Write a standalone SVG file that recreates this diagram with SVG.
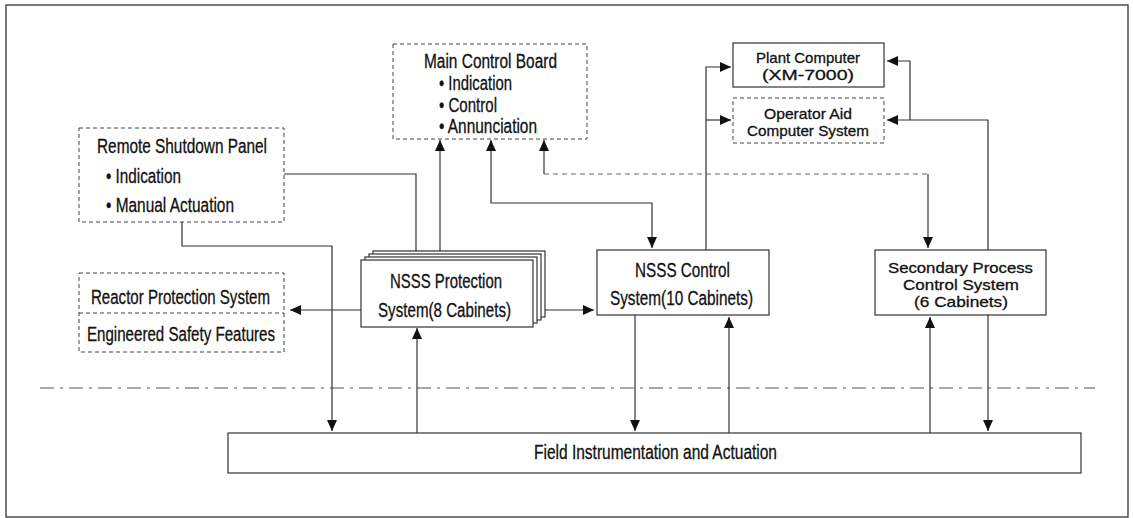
<svg xmlns="http://www.w3.org/2000/svg" width="1133" height="518" viewBox="0 0 1133 518">
<style>
text{font-family:"Liberation Sans",Arial,sans-serif;fill:#111;font-size:20px;stroke:#111;stroke-width:0.3;}
.s16{font-size:15px;}
.box{fill:#fff;stroke:#333;stroke-width:1.2;}
.dbox{fill:#fff;stroke:#444;stroke-width:1;stroke-dasharray:4 3;}
.ln{fill:none;stroke:#333;stroke-width:1.2;}
.dl{fill:none;stroke:#666;stroke-width:1;stroke-dasharray:5 4;}
.sep{fill:none;stroke:#555;stroke-width:1;stroke-dasharray:14 6 3 6;}
</style>
<defs>
<marker id="ah" markerUnits="userSpaceOnUse" markerWidth="12" markerHeight="10" refX="11" refY="5" orient="auto-start-reverse">
<path d="M0,0 L11,5 L0,10 z" fill="#111"/>
</marker>
</defs>
<rect x="6" y="5" width="1122" height="512" fill="#fff" stroke="#333" stroke-width="1.3"/>
<path class="sep" d="M40,388 H1095"/>
<g id="connectors">
<path class="ln" d="M284,174 H416 V251"/>
<path class="ln" d="M440,251 V140" marker-end="url(#ah)"/>
<path class="ln" d="M491,140 V203 H652 V248" marker-start="url(#ah)" marker-end="url(#ah)"/>
<path class="ln" d="M544,174 V140" marker-end="url(#ah)"/>
<path class="dl" d="M544,174 H928"/>
<path class="ln" d="M928,174 V248" marker-end="url(#ah)"/>
<path class="ln" d="M706,250 V67 H731" marker-end="url(#ah)"/>
<path class="ln" d="M706,120 H731" marker-end="url(#ah)"/>
<path class="ln" d="M988,250 V120 H887" marker-end="url(#ah)"/>
<path class="ln" d="M910,120 V61 H887" marker-end="url(#ah)"/>
<path class="ln" d="M182,222 V246 H332 V431" marker-end="url(#ah)"/>
<path class="ln" d="M362,310 H290" marker-end="url(#ah)"/>
<path class="ln" d="M545,310 H594" marker-end="url(#ah)"/>
<path class="ln" d="M417,433 V328" marker-end="url(#ah)"/>
<path class="ln" d="M635,315 V431" marker-end="url(#ah)"/>
<path class="ln" d="M729,433 V317" marker-end="url(#ah)"/>
<path class="ln" d="M930,433 V317" marker-end="url(#ah)"/>
<path class="ln" d="M988,315 V431" marker-end="url(#ah)"/>
</g>
<g id="main-control-board">
<rect class="dbox" x="393" y="44" width="194" height="95"/>
<text x="424" y="68" textLength="133" lengthAdjust="spacingAndGlyphs">Main Control Board</text>
<text x="439" y="90" textLength="73" lengthAdjust="spacingAndGlyphs">• Indication</text>
<text x="439" y="112" textLength="58" lengthAdjust="spacingAndGlyphs">• Control</text>
<text x="439" y="133" textLength="98" lengthAdjust="spacingAndGlyphs">• Annunciation</text>
</g>
<g id="remote-shutdown-panel">
<rect class="dbox" x="79" y="128" width="205" height="94"/>
<text x="97" y="153" textLength="170" lengthAdjust="spacingAndGlyphs">Remote Shutdown Panel</text>
<text x="106" y="183" textLength="75" lengthAdjust="spacingAndGlyphs">• Indication</text>
<text x="106" y="212" textLength="128" lengthAdjust="spacingAndGlyphs">• Manual Actuation</text>
</g>
<g id="plant-computer">
<rect class="box" x="733" y="43" width="151" height="44"/>
<text class="s16" x="756" y="63" textLength="104" lengthAdjust="spacingAndGlyphs">Plant Computer</text>
<text class="s16" x="762" y="80" textLength="92" lengthAdjust="spacingAndGlyphs">(XM-7000)</text>
</g>
<g id="operator-aid">
<rect class="dbox" x="733" y="98" width="151" height="45"/>
<text class="s16" x="764" y="119" textLength="88" lengthAdjust="spacingAndGlyphs">Operator Aid</text>
<text class="s16" x="747" y="136" textLength="122" lengthAdjust="spacingAndGlyphs">Computer System</text>
</g>
<g id="rps-esf">
<rect class="dbox" x="79" y="273" width="205" height="79"/>
<path class="dbox" d="M79,313 H284"/>
<text x="91" y="304" textLength="179" lengthAdjust="spacingAndGlyphs">Reactor Protection System</text>
<text x="87" y="341" textLength="188" lengthAdjust="spacingAndGlyphs">Engineered Safety Features</text>
</g>
<g id="nsss-protection">
<rect class="box" x="373" y="251" width="172" height="66"/>
<rect class="box" x="369" y="254" width="172" height="66"/>
<rect class="box" x="365" y="257" width="172" height="66"/>
<rect class="box" x="361" y="260" width="172" height="67"/>
<text x="390" y="288" textLength="112" lengthAdjust="spacingAndGlyphs">NSSS Protection</text>
<text x="378" y="317" textLength="133" lengthAdjust="spacingAndGlyphs">System(8 Cabinets)</text>
</g>
<g id="nsss-control">
<rect class="box" x="597" y="250" width="172" height="65"/>
<text x="635" y="277" textLength="95" lengthAdjust="spacingAndGlyphs">NSSS Control</text>
<text x="610" y="305" textLength="143" lengthAdjust="spacingAndGlyphs">System(10 Cabinets)</text>
</g>
<g id="secondary-process">
<rect class="box" x="875" y="250" width="171" height="65"/>
<text class="s16" x="888" y="273" textLength="145" lengthAdjust="spacingAndGlyphs">Secondary Process</text>
<text class="s16" x="903" y="290" textLength="116" lengthAdjust="spacingAndGlyphs">Control System</text>
<text class="s16" x="914" y="307" textLength="94" lengthAdjust="spacingAndGlyphs">(6 Cabinets)</text>
</g>
<g id="field-instrumentation">
<rect class="box" x="228" y="433" width="853" height="40"/>
<text x="534" y="459" textLength="243" lengthAdjust="spacingAndGlyphs">Field Instrumentation and Actuation</text>
</g>
</svg>
